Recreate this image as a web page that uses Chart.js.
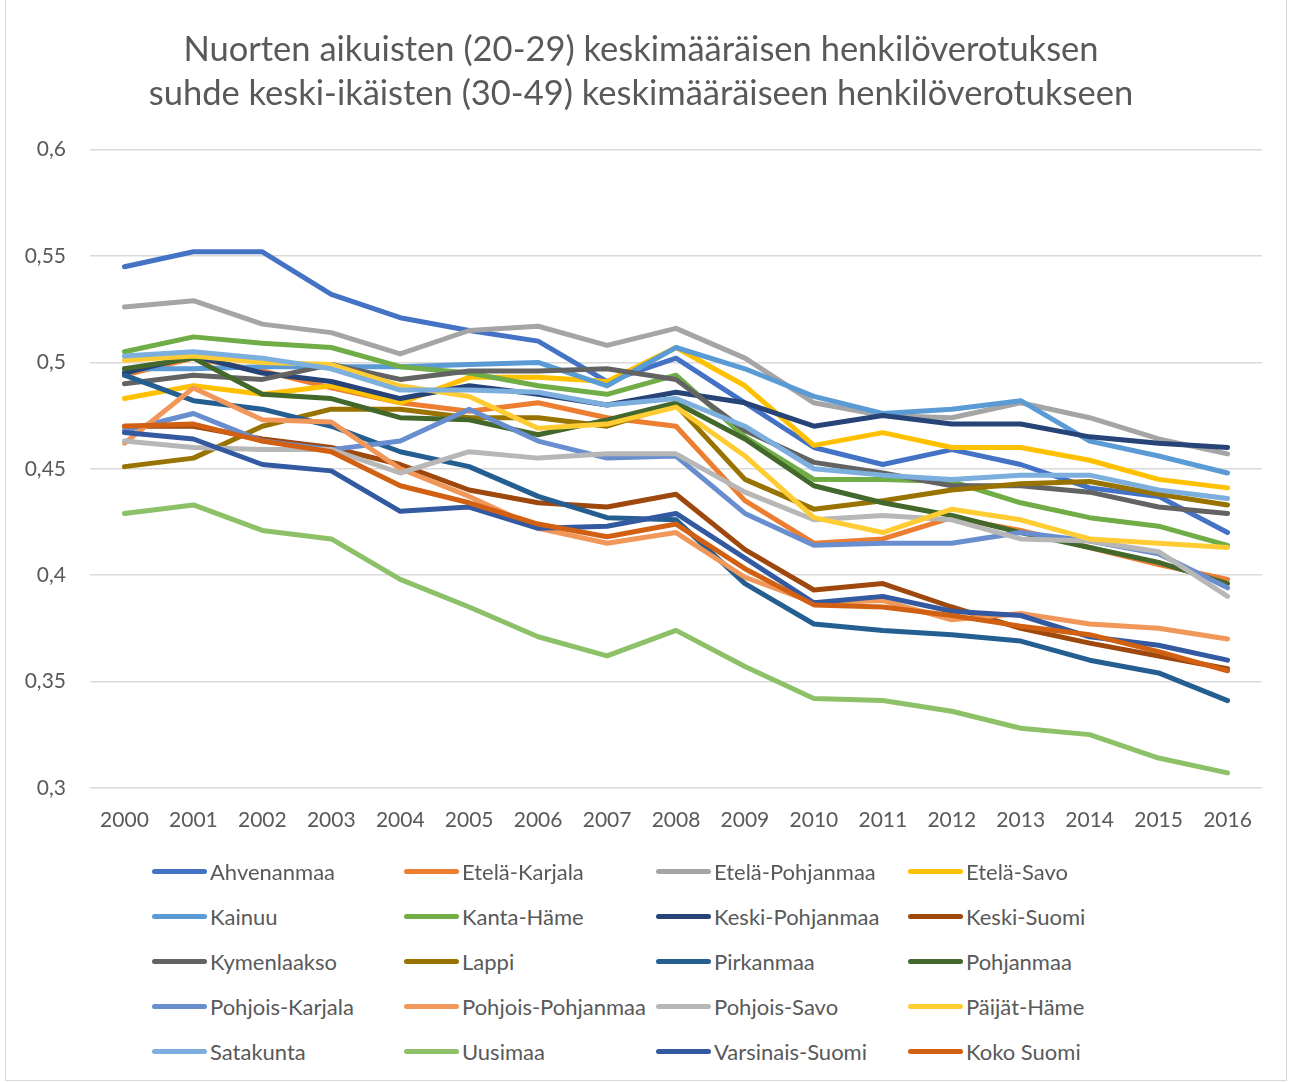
<!DOCTYPE html>
<html>
<head>
<meta charset="utf-8">
<script src="https://cdn.jsdelivr.net/npm/chart.js@4.4.0/dist/chart.umd.min.js"></script>
<style>
  body { margin: 0; background: #fff; font-family: Lato, "Noto Sans", sans-serif; }
  #wrap { position: relative; width: 1290px; height: 1082px; }
  #frame { position: absolute; left: 5px; top: 0; width: 1282px; height: 1081px; border: 1px solid #d9d9d9; border-top: none; box-sizing: border-box; }
  #chartBox { position: absolute; left: 0; top: 0; width: 1290px; height: 869px; }
  #legend { position: absolute; left: 0; top: 0; width: 1290px; }
  .item { position: absolute; display: flex; align-items: center; height: 30px; color: #595959; font-size: 22px; white-space: nowrap; }
  .swatch { width: 55px; height: 5px; border-radius: 3px; margin-right: 3px; }
</style>
</head>
<body>
<div id="wrap">
  <div id="frame"></div>
  <div id="chartBox"><canvas id="taxChart"></canvas></div>
  <div id="legend"></div>
</div>
<script>
const years = ["2000", "2001", "2002", "2003", "2004", "2005", "2006", "2007", "2008",
  "2009", "2010", "2011", "2012", "2013", "2014", "2015", "2016"];

const ahvenanmaa = [0.545, 0.552, 0.552, 0.532, 0.521, 0.515, 0.510, 0.491, 0.502, 0.481, 0.460, 0.452, 0.459, 0.452, 0.441, 0.437, 0.420];
const etelaKarjala = [0.494, 0.502, 0.496, 0.488, 0.481, 0.477, 0.481, 0.474, 0.470, 0.435, 0.415, 0.417, 0.427, 0.421, 0.413, 0.405, 0.398];
const etelaPohjanmaa = [0.526, 0.529, 0.518, 0.514, 0.504, 0.515, 0.517, 0.508, 0.516, 0.502, 0.481, 0.475, 0.474, 0.481, 0.474, 0.464, 0.457];
const etelaSavo = [0.483, 0.489, 0.485, 0.489, 0.481, 0.493, 0.493, 0.491, 0.507, 0.489, 0.461, 0.467, 0.460, 0.460, 0.454, 0.445, 0.441];
const kainuu = [0.497, 0.497, 0.498, 0.498, 0.498, 0.499, 0.500, 0.489, 0.507, 0.497, 0.484, 0.476, 0.478, 0.482, 0.463, 0.456, 0.448];
const kantaHame = [0.505, 0.512, 0.509, 0.507, 0.498, 0.495, 0.489, 0.485, 0.494, 0.465, 0.445, 0.445, 0.444, 0.434, 0.427, 0.423, 0.414];
const keskiPohjanmaa = [0.495, 0.503, 0.495, 0.491, 0.483, 0.489, 0.485, 0.480, 0.486, 0.481, 0.470, 0.475, 0.471, 0.471, 0.465, 0.462, 0.460];
const keskiSuomi = [0.470, 0.470, 0.464, 0.460, 0.452, 0.440, 0.434, 0.432, 0.438, 0.412, 0.393, 0.396, 0.385, 0.375, 0.368, 0.362, 0.356];
const kymenlaakso = [0.490, 0.494, 0.492, 0.499, 0.492, 0.496, 0.496, 0.497, 0.492, 0.468, 0.453, 0.448, 0.442, 0.442, 0.439, 0.432, 0.429];
const lappi = [0.451, 0.455, 0.470, 0.478, 0.478, 0.474, 0.474, 0.470, 0.480, 0.445, 0.431, 0.435, 0.440, 0.443, 0.444, 0.438, 0.433];
const pirkanmaa = [0.494, 0.482, 0.478, 0.470, 0.458, 0.451, 0.437, 0.427, 0.426, 0.396, 0.377, 0.374, 0.372, 0.369, 0.360, 0.354, 0.341];
const pohjanmaa = [0.497, 0.502, 0.485, 0.483, 0.474, 0.473, 0.466, 0.473, 0.481, 0.464, 0.442, 0.434, 0.428, 0.420, 0.413, 0.406, 0.396];
const pohjoisKarjala = [0.468, 0.476, 0.463, 0.459, 0.463, 0.478, 0.463, 0.455, 0.456, 0.429, 0.414, 0.415, 0.415, 0.420, 0.416, 0.410, 0.394];
const pohjoisPohjanmaa = [0.462, 0.488, 0.473, 0.472, 0.450, 0.437, 0.422, 0.415, 0.420, 0.399, 0.387, 0.388, 0.379, 0.382, 0.377, 0.375, 0.370];
const pohjoisSavo = [0.463, 0.460, 0.459, 0.459, 0.448, 0.458, 0.455, 0.457, 0.457, 0.439, 0.426, 0.428, 0.426, 0.417, 0.416, 0.411, 0.390];
const paijatHame = [0.501, 0.503, 0.500, 0.499, 0.489, 0.484, 0.469, 0.471, 0.479, 0.456, 0.427, 0.420, 0.431, 0.426, 0.417, 0.415, 0.413];
const satakunta = [0.503, 0.505, 0.502, 0.497, 0.487, 0.487, 0.486, 0.480, 0.483, 0.470, 0.450, 0.447, 0.445, 0.447, 0.447, 0.440, 0.436];
const uusimaa = [0.429, 0.433, 0.421, 0.417, 0.398, 0.385, 0.371, 0.362, 0.374, 0.357, 0.342, 0.341, 0.336, 0.328, 0.325, 0.314, 0.307];
const varsinaisSuomi = [0.467, 0.464, 0.452, 0.449, 0.430, 0.432, 0.422, 0.423, 0.429, 0.408, 0.387, 0.390, 0.383, 0.381, 0.371, 0.367, 0.360];
const kokoSuomi = [0.470, 0.471, 0.463, 0.458, 0.442, 0.434, 0.424, 0.418, 0.424, 0.403, 0.386, 0.385, 0.381, 0.376, 0.372, 0.364, 0.355];

const regionNames = ["Ahvenanmaa", "Etelä-Karjala", "Etelä-Pohjanmaa", "Etelä-Savo", "Kainuu",
  "Kanta-Häme", "Keski-Pohjanmaa", "Keski-Suomi", "Kymenlaakso", "Lappi", "Pirkanmaa",
  "Pohjanmaa", "Pohjois-Karjala", "Pohjois-Pohjanmaa", "Pohjois-Savo", "Päijät-Häme",
  "Satakunta", "Uusimaa", "Varsinais-Suomi", "Koko Suomi"];
const regionValues = [ahvenanmaa, etelaKarjala, etelaPohjanmaa, etelaSavo, kainuu, kantaHame,
  keskiPohjanmaa, keskiSuomi, kymenlaakso, lappi, pirkanmaa, pohjanmaa, pohjoisKarjala,
  pohjoisPohjanmaa, pohjoisSavo, paijatHame, satakunta, uusimaa, varsinaisSuomi, kokoSuomi];

const colors = [
  "#4472C4", "#ED7D31", "#A5A5A5", "#FFC000", "#5B9BD5",
  "#70AD47", "#264478", "#9E480E", "#636363", "#997300",
  "#255E91", "#43682B", "#698ED0", "#F1975A", "#B7B7B7",
  "#FFCD33", "#7CAFDD", "#8CC168", "#335AA1", "#D26012",
];

const titleLines = [
  "Nuorten aikuisten (20-29) keskimääräisen henkilöverotuksen",
  "suhde keski-ikäisten (30-49) keskimääräiseen henkilöverotukseen",
];

const textColor = "#595959";
const fontFamily = "Lato, 'Noto Sans', sans-serif";

// later series sit on top, like the original spreadsheet chart
const datasets = regionNames.map((name, i) => ({
  label: name,
  data: regionValues[i],
  borderColor: colors[i],
  backgroundColor: colors[i],
  borderWidth: 5,
  pointRadius: 0,
  pointHoverRadius: 0,
  tension: 0,
  fill: false,
  borderCapStyle: "round",
  borderJoinStyle: "round",
  order: regionNames.length - i,
}));

const ctx = document.getElementById("taxChart").getContext("2d");
new Chart(ctx, {
  type: "line",
  data: { labels: years, datasets: datasets },
  options: {
    responsive: true,
    maintainAspectRatio: false,
    animation: false,
    layout: {
      padding: { top: 0, right: 28, bottom: 16, left: 20 },
    },
    plugins: {
      legend: { display: false },
      tooltip: { enabled: false },
      title: {
        display: true,
        text: titleLines,
        color: textColor,
        font: { family: fontFamily, size: 34.5, weight: "normal", lineHeight: 1.3 },
        padding: { top: 27, bottom: 33 },
      },
    },
    scales: {
      x: {
        offset: true,
        grid: { display: false, drawTicks: false },
        border: { display: false },
        ticks: {
          color: textColor,
          padding: 20,
          maxRotation: 0,
          font: { family: fontFamily, size: 21 },
        },
      },
      y: {
        min: 0.3,
        max: 0.6,
        afterFit: function (scale) {
          scale.width = 70;
        },
        grid: { color: "#d9d9d9", lineWidth: 1.5, drawTicks: false },
        border: { display: false },
        ticks: {
          stepSize: 0.05,
          color: textColor,
          padding: 24,
          font: { family: fontFamily, size: 21 },
          callback: function (value) {
            return String(Math.round(value * 100) / 100).replace(".", ",");
          },
        },
      },
    },
  },
});

// four-column legend under the chart
const legendEl = document.getElementById("legend");
const colX = [152, 404, 656, 908];
const rowY = [871, 916, 961, 1006, 1051];
regionNames.forEach((name, i) => {
  const item = document.createElement("div");
  item.className = "item";
  item.style.left = colX[i % 4] + "px";
  item.style.top = rowY[Math.floor(i / 4)] - 15 + "px";
  const swatch = document.createElement("span");
  swatch.className = "swatch";
  swatch.style.background = colors[i];
  const text = document.createElement("span");
  text.textContent = name;
  item.appendChild(swatch);
  item.appendChild(text);
  legendEl.appendChild(item);
});
</script>
</body>
</html>
